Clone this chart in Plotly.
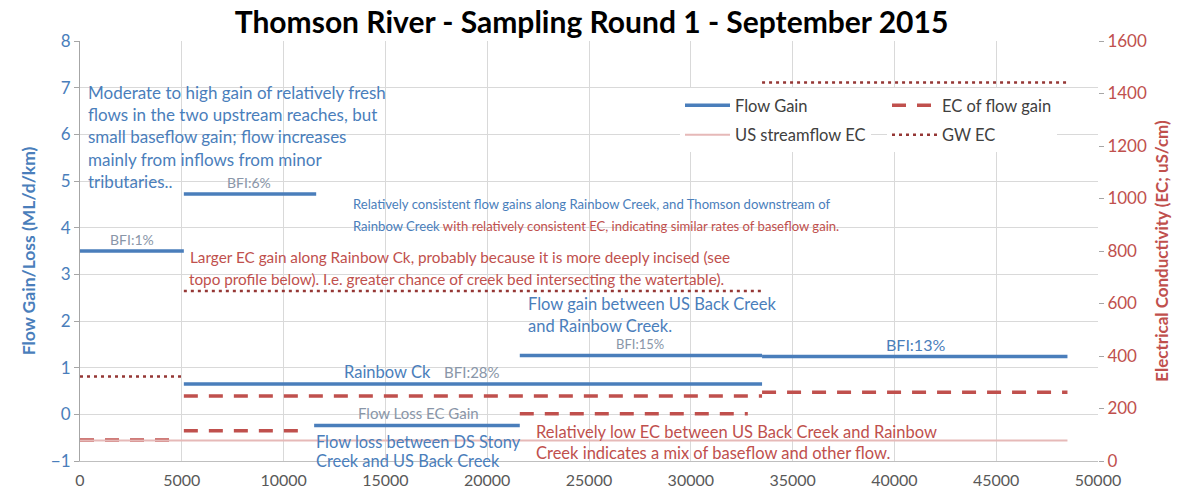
import plotly.graph_objects as go

# ---------------- data ----------------
x_ticks = [0, 5000, 10000, 15000, 20000, 25000, 30000, 35000, 40000, 45000, 50000]

# Flow gain (ML/d/km) step segments along the river
flow_start = [0, 5100, 5100, 11500, 21600, 33500]
flow_end = [5100, 11600, 33500, 21600, 33500, 48500]
flow_value = [3.5, 4.72, 0.65, -0.24, 1.26, 1.24]

# EC of flow gain (uS/cm)
ecg_start = [0, 5100, 5100, 21600, 33500]
ecg_end = [4600, 11000, 33500, 32800, 48500]
ecg_value = [80, 115, 248, 180, 262]

# US streamflow EC (uS/cm)
us_start = [0]
us_end = [48500]
us_value = [78]

# GW EC (uS/cm)
gw_start = [0, 5100, 33500]
gw_end = [5000, 33500, 48500]
gw_value = [322, 648, 1442]


def steps(starts, ends, values):
    xs, ys = [], []
    for s, e, v in zip(starts, ends, values):
        xs += [s, e, None]
        ys += [v, v, None]
    return xs, ys


BLUE = "#4a7ebb"
RED = "#c0504d"
PINK = "#e6b9b8"
DARKRED = "#953735"
GRAY_TXT = "#8996a8"
FONT = "Lato"

W, H = 1183, 495
L, R, T, B = 80, 85, 41, 34
PW, PH = W - L - R, H - T - B

fig = go.Figure()

fx, fy = steps(flow_start, flow_end, flow_value)
fig.add_trace(go.Scatter(x=fx, y=fy, mode="lines", name="Flow Gain", legend="legend",
                         legendgroup="a", line=dict(color=BLUE, width=3.5), yaxis="y"))
ex, ey = steps(ecg_start, ecg_end, ecg_value)
fig.add_trace(go.Scatter(x=ex, y=ey, mode="lines", name="EC of flow gain", legend="legend2",
                         legendgroup="b",
                         line=dict(color=RED, width=3.5, dash="14px,11px"), yaxis="y2"))
ux, uy = steps(us_start, us_end, us_value)
fig.add_trace(go.Scatter(x=ux, y=uy, mode="lines", name="US streamflow EC", legend="legend",
                         legendgroup="c", line=dict(color=PINK, width=2), yaxis="y2"))
gx, gy = steps(gw_start, gw_end, gw_value)
fig.add_trace(go.Scatter(x=gx, y=gy, mode="lines", name="GW EC", legend="legend2",
                         legendgroup="d",
                         line=dict(color=DARKRED, width=2.5, dash="3px,4px"), yaxis="y2"))


def px2x(px):
    return (px - L) / PW


def py2y(py):
    return (H - B - py) / PH


ann = []


def text(px, py, s, color, size, anchor="left"):
    ann.append(dict(x=px2x(px), y=py2y(py), xref="paper", yref="paper", text=s,
                    showarrow=False, xanchor=anchor, yanchor="middle",
                    font=dict(family=FONT, size=size, color=color)))


# Block 1
for i, line in enumerate(["Moderate to high gain of relatively fresh",
                          "flows in the two upstream reaches, but",
                          "small baseflow gain; flow increases",
                          "mainly from inflows from minor",
                          "tributaries.."]):
    text(86, 92 + i * 22.4, line, BLUE, 17)

text(249, 182, "BFI:6%", GRAY_TXT, 14, "center")
text(132, 239, "BFI:1%", GRAY_TXT, 14, "center")

# Block 2
text(351, 204, "Relatively consistent flow gains along Rainbow Creek, and Thomson downstream of", BLUE, 13.1)
text(351, 226, "Rainbow Creek<span style='color:%s'> with relatively consistent EC, indicating similar rates of baseflow gain.</span>" % RED, BLUE, 13.1)

# Block 5
text(188, 257, "Larger EC gain along Rainbow Ck, probably because it is more deeply incised (see", RED, 15.3)
text(187, 279, "topo profile below). I.e. greater chance of creek bed intersecting the watertable).", RED, 15.3)

# Block 6
text(526, 304, "Flow gain between US Back Creek", BLUE, 16.5)
text(526, 326, "and Rainbow Creek.", BLUE, 16.5)

text(640, 344, "BFI:15%", GRAY_TXT, 13, "center")
text(915, 344, "BFI:13%", BLUE, 16, "center")
text(387, 372, "Rainbow Ck", BLUE, 16.5, "center")
text(472, 372, "BFI:28%", GRAY_TXT, 15, "center")
text(418, 413, "Flow Loss EC Gain", GRAY_TXT, 15, "center")

text(314, 441, "Flow loss between DS Stony", BLUE, 16.4)
text(314, 460, "Creek and US Back Creek", BLUE, 16.4)
text(534, 432, "Relatively low EC between US Back Creek and Rainbow", RED, 16.5)
text(534, 453, "Creek indicates a mix of baseflow and other flow.", RED, 16.5)

legend_common = dict(orientation="v", xanchor="left", yanchor="top", bgcolor="white",
                     font=dict(family=FONT, size=16.5, color="#404040"),
                     traceorder="grouped", tracegroupgap=5, itemwidth=45)

fig.update_layout(
    width=W, height=H,
    margin=dict(l=L, r=R, t=T, b=B),
    paper_bgcolor="white", plot_bgcolor="white",
    font=dict(family=FONT, size=16, color="#595959"),
    title=dict(text="<b>Thomson River - Sampling Round 1 - September 2015</b>",
               x=0.5, xanchor="center", y=1 - 22 / H, yanchor="middle",
               font=dict(family=FONT, size=30, color="black")),
    xaxis=dict(range=[0, 50000], tickvals=x_ticks, ticktext=[str(v) for v in x_ticks],
               showgrid=True, gridcolor="#d9d9d9", gridwidth=1, zeroline=False,
               showline=True, linecolor="#bfbfbf", automargin=False, ticklabelstandoff=5,
               tickfont=dict(family=FONT, size=16, color="#595959")),
    yaxis=dict(range=[-1, 8], dtick=1, showgrid=True, gridcolor="#d9d9d9", zeroline=False,
               showline=True, linecolor="#a6a6a6", ticks="outside", ticklen=5, tickcolor="#a6a6a6",
               automargin=False,
               tickfont=dict(family=FONT, size=17, color=BLUE),
               title=dict(text="<b>Flow Gain/Loss (ML/d/km)</b>", standoff=10,
                          font=dict(family=FONT, size=17.5, color=BLUE))),
    yaxis2=dict(range=[0, 1600], dtick=200, overlaying="y", side="right", showgrid=False,
                zeroline=False, showline=False, ticks="outside", ticklen=5, tickcolor="#a6a6a6",
                automargin=False,
                tickfont=dict(family=FONT, size=17, color=RED),
                title=dict(text="<b>Electrical Conductivity (EC; uS/cm)</b>", standoff=10,
                           font=dict(family=FONT, size=17, color=RED))),
    legend=dict(x=px2x(680), y=py2y(88), **legend_common),
    legend2=dict(x=px2x(887), y=py2y(88), **legend_common),
    annotations=ann,
)

fig.write_html("out.html", config={"displayModeBar": False},
               post_script="document.body.style.margin='0';")
